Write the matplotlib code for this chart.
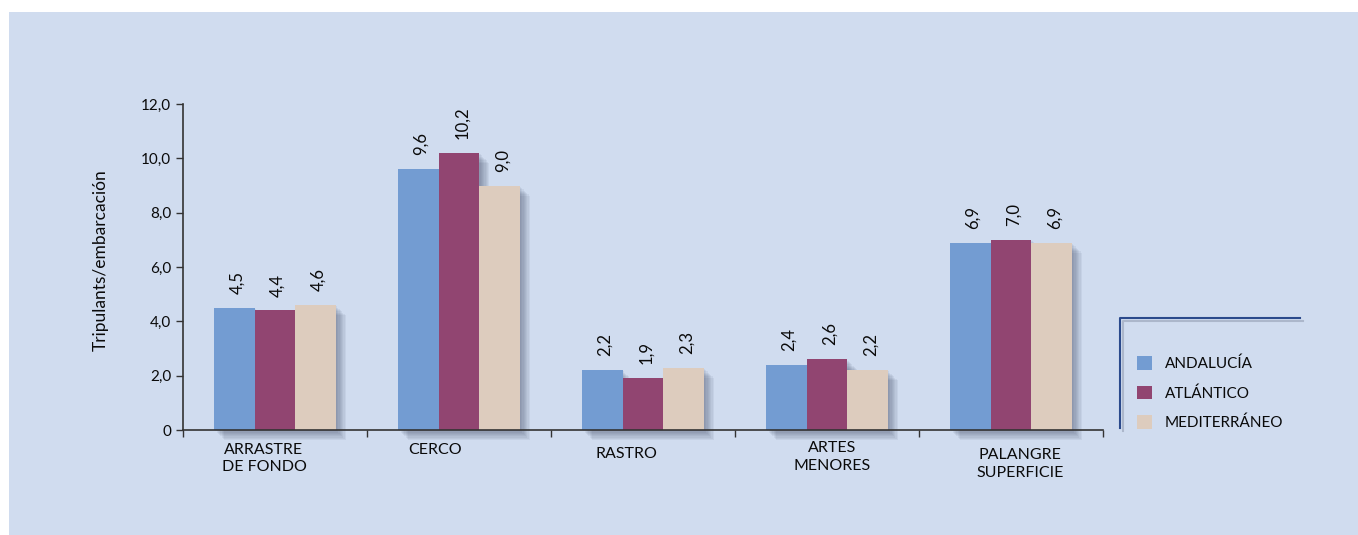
import matplotlib

matplotlib.use("Agg")
import matplotlib.pyplot as plt
import matplotlib.patheffects as pe
import matplotlib.transforms as mtransforms
from matplotlib.lines import Line2D
from matplotlib.patches import Rectangle

plt.rcParams["font.family"] = ["Lato", "DejaVu Sans"]

categories = ["ARRASTRE\nDE FONDO", "CERCO", "RASTRO", "ARTES\nMENORES", "PALANGRE\nSUPERFICIE"]
series = ["ANDALUCÍA", "ATLÁNTICO", "MEDITERRÁNEO"]
andalucia = [4.5, 9.6, 2.2, 2.4, 6.9]
atlantico = [4.4, 10.2, 1.9, 2.6, 7.0]
mediterraneo = [4.6, 9.0, 2.3, 2.2, 6.9]
y_ticks = [0, 2, 4, 6, 8, 10, 12]

colors = ["#739CD2", "#914571", "#DDCCBE"]
BG = "#D0DCEF"
TXT = "#0a0a0a"
W, H = 1358, 535


def fx(px):
    return px / W


def fy(py):
    return 1 - py / H


def fmt(v):
    return "0" if v == 0 else f"{v:.1f}".replace(".", ",")


fig = plt.figure(figsize=(W / 100, H / 100), dpi=100)
fig.patch.set_facecolor("white")
fig.add_artist(Rectangle((fx(9), 0), 1 - fx(9), fy(12), transform=fig.transFigure,
                         facecolor=BG, edgecolor="none", zorder=-10))

ax = fig.add_axes([fx(183), fy(430), fx(1103) - fx(183), fy(104) - fy(430)])
ax.set_facecolor("none")

bw = 0.221
handles = []
for k, (vals, col, name) in enumerate(zip([andalucia, atlantico, mediterraneo], colors, series)):
    xs = [i + 0.5 + (k - 1) * bw for i in range(len(categories))]
    bars = ax.bar(xs, vals, width=bw, color=col, label=name, zorder=3)
    handles.append(bars)
    # soft drop shadow, built from a few faint offset copies of each bar
    for d in range(1, 9):
        tr = mtransforms.offset_copy(ax.transData, fig=fig, x=d * 0.9, y=-d * 0.9, units="points")
        ax.bar(xs, vals, width=bw, color="#3e4864", alpha=0.07, zorder=1,
               transform=tr, clip_on=False)
    for x, v in zip(xs, vals):
        ax.annotate(fmt(v), (x, v), xytext=(2, 10), textcoords="offset points",
                    rotation=90, ha="center", va="bottom", fontsize=12, color=TXT)

ax.set_xlim(0, len(categories))
ax.set_ylim(0, 12)
ax.set_yticks(y_ticks)
ax.set_yticklabels([fmt(t) for t in y_ticks], fontsize=11, color=TXT)
ax.set_xticks(range(len(categories) + 1))
ax.set_xticklabels([])
ax.tick_params(axis="both", direction="out", length=5, color="#333333", width=1)
for s in ["top", "right"]:
    ax.spines[s].set_visible(False)
for s in ["left", "bottom"]:
    ax.spines[s].set_color("#333333")
    ax.spines[s].set_linewidth(1.2)
    ax.spines[s].set_zorder(4)

# category labels (slightly shifted like the original layout)
label_dx = [-0.06, -0.13, -0.09, 0.03, 0.05]
label_dy = [9, 9, 12, 8, 13]
for i, (lab, dx, dy) in enumerate(zip(categories, label_dx, label_dy)):
    ax.annotate(lab, (i + 0.5 + dx, 0), xytext=(0, -dy), textcoords="offset points",
                ha="center", va="top", fontsize=11.5, linespacing=1.35, color=TXT)

fig.text(fx(101), fy(260), "Tripulants/embarcación", rotation=90, ha="center",
         va="center", fontsize=12.5, color=TXT)

# legend box (L-shaped frame)
frame_fx = [pe.SimpleLineShadow(offset=(2, -2), alpha=0.3, shadow_color="#5a6478"), pe.Normal()]
fig.add_artist(Line2D([fx(1120), fx(1120), fx(1300)], [fy(428), fy(318), fy(318)],
                      transform=fig.transFigure, color="#2B4A8C", lw=1.5,
                      path_effects=frame_fx))
fig.legend(handles=handles, labels=series, loc="upper left",
           bbox_to_anchor=(fx(1131), fy(350)), frameon=False, fontsize=11,
           handlelength=1.0, handleheight=1.0, handletextpad=0.8,
           labelspacing=0.95, borderaxespad=0, labelcolor=TXT)

fig.savefig("out.png", dpi=100, facecolor=fig.get_facecolor())
